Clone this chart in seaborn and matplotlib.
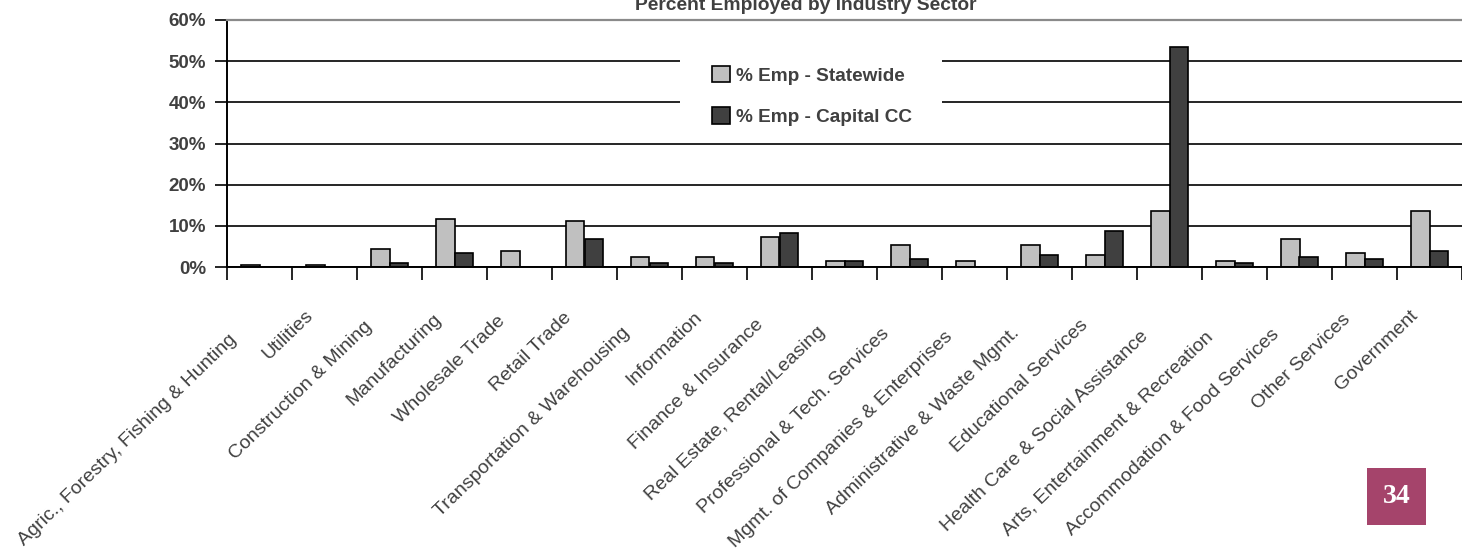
import numpy as np
import pandas as pd
import matplotlib
matplotlib.use("Agg")
import matplotlib.pyplot as plt
import matplotlib.transforms as mtransforms
from matplotlib.patches import Patch, Rectangle
import seaborn as sns

# --- data (percent of employment) ---
sectors = [
    "Agric., Forestry, Fishing & Hunting", "Utilities", "Construction & Mining",
    "Manufacturing", "Wholesale Trade", "Retail Trade",
    "Transportation & Warehousing", "Information", "Finance & Insurance",
    "Real Estate, Rental/Leasing", "Professional & Tech. Services",
    "Mgmt. of Companies & Enterprises", "Administrative & Waste Mgmt.",
    "Educational Services", "Health Care & Social Assistance",
    "Arts, Entertainment & Recreation", "Accommodation & Food Services",
    "Other Services", "Government",
]
statewide = [0.4, 0.4, 4.4, 11.7, 3.9, 11.2, 2.4, 2.4, 7.3, 1.4, 5.3,
             1.4, 5.3, 2.8, 13.7, 1.4, 6.9, 3.3, 13.7]
capital_cc = [0.0, 0.0, 0.9, 3.3, 0.0, 6.9, 0.9, 0.9, 8.3, 1.4, 1.9,
              0.0, 2.8, 8.8, 53.5, 0.9, 2.4, 1.9, 3.9]
series_names = ["% Emp - Statewide", "% Emp - Capital CC"]
y_ticks = [0, 10, 20, 30, 40, 50, 60]

df = pd.DataFrame({
    "Sector": sectors * 2,
    "Pct": statewide + capital_cc,
    "Series": [series_names[0]] * len(sectors) + [series_names[1]] * len(sectors),
})

sns.set_style("white")
plt.rcParams["font.family"] = ["Liberation Sans", "DejaVu Sans"]
text_col = "#404040"
colors = ["#C0C0C0", "#404040"]

fig = plt.figure(figsize=(14.62, 5.54), dpi=100)
ax = fig.add_axes([227 / 1462, (554 - 267) / 554, 1 - 227 / 1462, 247 / 554])

sns.barplot(data=df, x="Sector", y="Pct", hue="Series", order=sectors,
            hue_order=series_names, palette=colors, width=0.57, gap=0,
            edgecolor="black", linewidth=1.2, saturation=1, legend=False, ax=ax)

ax.set_xlim(-0.5, len(sectors) - 0.5)
ax.set_ylim(0, 60)
ax.set_yticks(y_ticks)
ax.set_yticklabels([f"{v}%" for v in y_ticks], fontsize=13.5, fontweight="bold",
                   color=text_col)
ax.tick_params(axis="y", direction="out", length=9, width=1.2, color="black", pad=6, left=True)
ax.set_xlabel("")
ax.set_ylabel("")

# gridlines
ax.yaxis.grid(True, color="black", linewidth=1.2)
ax.set_axisbelow(True)

# spines
for s in ["left", "bottom"]:
    ax.spines[s].set_color("black")
    ax.spines[s].set_linewidth(1.4)
ax.spines["top"].set_color("#8a8a8a")
ax.spines["top"].set_linewidth(1.6)
ax.spines["right"].set_visible(False)

# category boundary ticks on x axis
ax.set_xticks(np.arange(-0.5, len(sectors), 1.0), minor=True)
ax.tick_params(axis="x", which="minor", direction="out", length=9, width=1.2,
               color="black", bottom=True)
ax.tick_params(axis="x", which="major", length=0, pad=0)
ax.set_xticks(range(len(sectors)))
ax.set_xticklabels(sectors, rotation=44, ha="right", va="center",
                   rotation_mode="anchor", fontsize=14, color=text_col)
# longer labels sit a little further down-left, like the original
for lab, name in zip(ax.get_xticklabels(), sectors):
    n = len(name)
    dx = -(10 + 0.45 * n) / 100
    dy = -(37 + 0.95 * n) / 100
    lab.set_transform(lab.get_transform() +
                      mtransforms.ScaledTranslation(dx, dy, fig.dpi_scale_trans))

# white area behind the legend hides the gridlines
ax.add_patch(Rectangle(((680 - 227) / 1235, (267 - 138) / 247),
                       262 / 1235, 80 / 247, transform=ax.transAxes,
                       facecolor="white", edgecolor="none", zorder=0.8))
handles = [Patch(facecolor=c, edgecolor="black", linewidth=1.2) for c in colors]
leg = ax.legend(handles, series_names, loc="center",
                bbox_to_anchor=((812 - 227) / 1235, (267 - 96) / 247),
                frameon=False, fontsize=13.7, handlelength=0.95, handleheight=0.95,
                handletextpad=0.3, labelspacing=1.2)
for t in leg.get_texts():
    t.set_color(text_col)
    t.set_fontweight("bold")

fig.text(806 / 1462, (554 - 10) / 554, "Percent Employed by Industry Sector",
         ha="center", va="baseline", fontsize=13.9, fontweight="bold", color=text_col)

# page number badge
fig.patches.append(Rectangle((1367 / 1462, (554 - 525) / 554), 59 / 1462, 57 / 554,
                             transform=fig.transFigure, facecolor="#A5446B",
                             edgecolor="none"))
fig.text(1396.5 / 1462, (554 - 496.5) / 554, "34", ha="center", va="center",
         fontsize=20, fontweight="bold", color="white",
         family=["Liberation Serif", "DejaVu Serif"])

fig.savefig("out.png", dpi=100)
